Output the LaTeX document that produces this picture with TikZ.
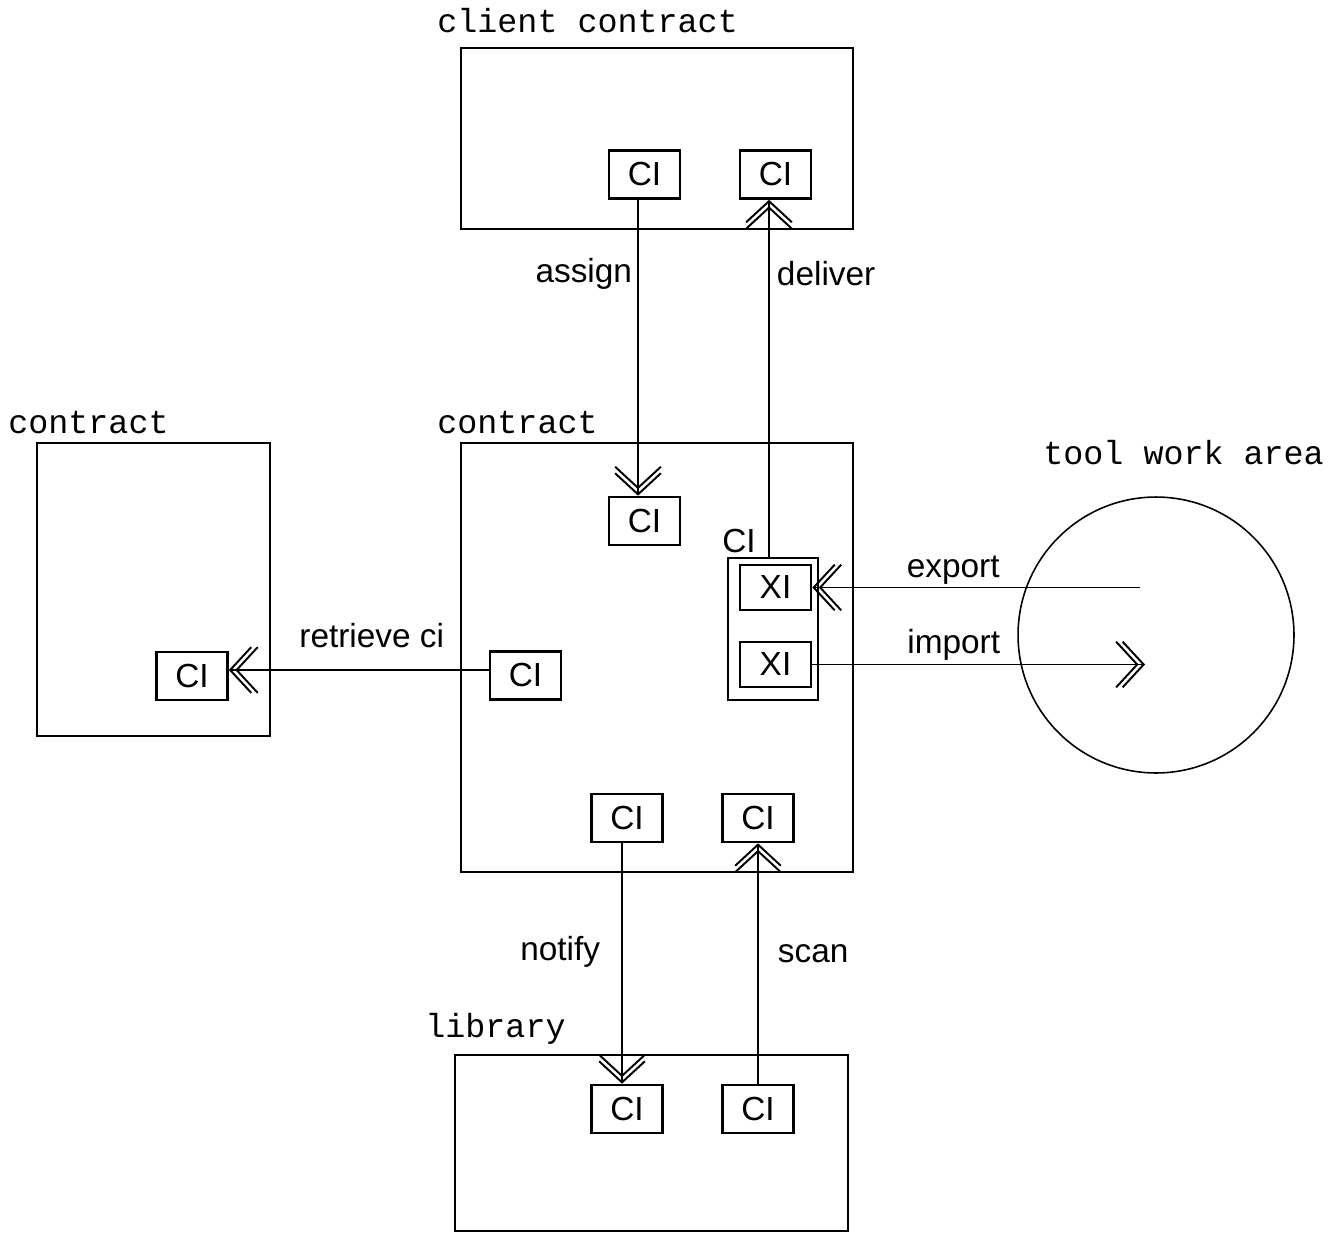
\documentclass[tikz,border=0pt]{standalone}
\usepackage{fontspec}
\setmainfont{Liberation Sans}
\setmonofont{Liberation Mono}
\usetikzlibrary{arrows.meta,positioning}

\begin{document}
\begin{tikzpicture}[x=0.02cm, y=-0.02cm,
  area/.style={draw, line width=1.2pt, inner sep=0pt},
  cibox/.style={draw, line width=1.5pt, inner sep=0pt, minimum width=1.42cm, minimum height=0.96cm, font=\fontsize{19}{20}\selectfont},
  xibox/.style={cibox, minimum height=0.9cm},
  title/.style={font=\ttfamily\fontsize{19}{20}\selectfont, anchor=base west, inner sep=0pt},
  lbl/.style={font=\fontsize{19}{20}\selectfont, inner sep=0pt},
  flow/.style={line width=1.1pt, -{Straight Barb[length=12pt,width=26pt,sep=-9.6pt]Straight Barb[length=12pt,width=26pt]}}]
  \useasboundingbox (0,0) rectangle (1341,1233);

  %--- client contract ---
  \node[title] (clientT) at (437,33) {client contract};
  \node[area, minimum width=7.84cm, minimum height=3.62cm] (client) at (657,138.5) {};
  \node[cibox] (ca) at (644.5,174.5) {CI};
  \node[cibox] (cb) at (775.5,174.5) {CI};

  %--- other contract (left) ---
  \node[title] (otherT) at (8,433) {contract};
  \node[area, minimum width=4.66cm, minimum height=5.86cm] (other) at (153.5,589.5) {};
  \node[cibox] (cl) at (192,676) {CI};

  %--- contract ---
  \node[title] (contrT) at (437,433) {contract};
  \node[area, minimum width=7.84cm, minimum height=8.58cm] (contr) at (657,657.5) {};
  \node[cibox] (cc) at (644.5,521) {CI};
  \node[cibox] (cr) at (525.5,675.5) {CI};
  \node[cibox] (cn) at (627,818) {CI};
  \node[cibox] (cs) at (758,818) {CI};

  % CI holding the two XI
  \node[draw, line width=1.5pt, inner sep=0pt, minimum width=1.8cm, minimum height=2.84cm] (cx) at (773,629) {};
  \node[lbl, anchor=base west] (cxT) at (722,552) {CI};
  \node[xibox] (x1) at (775.5,587.5) {XI};
  \node[xibox] (x2) at (775.5,664.5) {XI};

  %--- tool work area ---
  \node[title] (toolT) at (1043,464) {tool work area};
  \node[draw, circle, line width=0.9pt, inner sep=0pt, minimum size=5.52cm] (tool) at (1156,635) {};
  \coordinate (expS) at (1140,587.5);
  \coordinate (impE) at (1145,664.5);

  %--- library ---
  \node[title] (libT) at (425,1037) {library};
  \node[area, minimum width=7.86cm, minimum height=3.52cm] (lib) at (651.5,1143) {};
  \node[cibox] (ln) at (627,1109) {CI};
  \node[cibox] (ls) at (758,1109) {CI};

  %--- flows ---
  \draw[flow] ([xshift=-0.13cm]ca.south) -- node[lbl, pos=0.28, anchor=base east, xshift=-0.1cm] {assign} ([xshift=-0.13cm]cc.north);
  \draw[flow] ([xshift=-0.13cm]cb.south |- cx.north) -- node[lbl, pos=0.76, anchor=base west, xshift=0.14cm] {deliver} ([xshift=-0.13cm]cb.south);
  \draw[flow] ([yshift=0.11cm]cr.west) -- node[lbl, pos=0.45, anchor=base, yshift=0.46cm] {retrieve ci} ([yshift=0.11cm]cr.west -| cl.east);
  \draw[flow] (expS) -- node[lbl, pos=0.57, anchor=base, yshift=0.21cm] {export} (x1.east);
  \draw[flow] (x2.east) -- node[lbl, pos=0.425, anchor=base, yshift=0.23cm] {import} (impE);
  \draw[flow] ([xshift=-0.1cm]cn.south) -- node[lbl, pos=0.486, anchor=base east, xshift=-0.42cm] {notify} ([xshift=-0.1cm]ln.north);
  \draw[flow] (ls.north) -- node[lbl, pos=0.506, anchor=base west, xshift=0.38cm] {scan} (cs.south);
\end{tikzpicture}
\end{document}
